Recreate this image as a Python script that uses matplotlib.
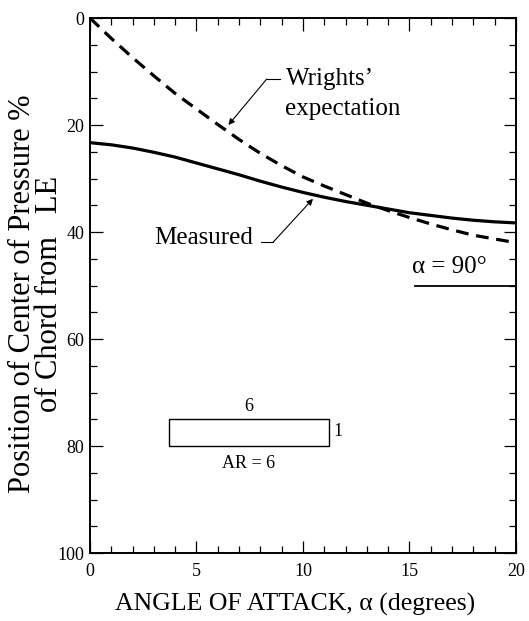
import matplotlib
matplotlib.use("Agg")
import matplotlib.pyplot as plt
from matplotlib.patches import Rectangle
from matplotlib.ticker import MultipleLocator

plt.rcParams['font.family'] = ['Liberation Serif', 'DejaVu Serif']

# Data
alpha = [0, 1, 2, 3, 4, 5, 6, 7, 8, 9, 10,
         11, 12, 13, 14, 15, 16, 17, 18, 19, 20]
measured = [23.3, 23.7, 24.3, 25.1, 26.0, 27.1, 28.2, 29.3, 30.5, 31.6, 32.6,
            33.5, 34.3, 35.0, 35.7, 36.4, 36.9, 37.4, 37.8, 38.1, 38.3]
wright = [0.0, 3.8, 7.4, 10.8, 14.1, 17.0, 19.9, 22.7, 25.3, 27.6, 29.7,
          31.4, 33.0, 34.6, 36.0, 37.3, 38.5, 39.6, 40.6, 41.3, 42.0]
alpha90_value = 50
alpha90_span = [15.25, 20]
wing_x = [3.7, 11.2]
wing_y = [75, 80]

fig = plt.figure(figsize=(5.29, 6.21), dpi=100)
ax = fig.add_axes([0.170, 0.1095, 0.8054, 0.8615])

ax.plot(alpha, measured, color='black', lw=2.3, solid_capstyle='butt')
ax.plot(alpha, wright, color='black', lw=2.3, linestyle=(0, (4.0, 2.4)))

ax.plot(alpha90_span, [alpha90_value, alpha90_value], color='black', lw=1.3)
ax.text(16.85, 46.6, 'α = 90°', fontsize=18, ha='center', va='center')

ax.add_patch(Rectangle((wing_x[0], wing_y[0]), wing_x[1] - wing_x[0],
                       wing_y[1] - wing_y[0], fill=False, lw=1.0, ec='black'))
ax.text(7.45, 72.6, '6', fontsize=13, ha='center', va='center')
ax.text(11.45, 77.3, '1', fontsize=13, ha='left', va='center')
ax.text(7.45, 83.2, 'AR = 6', fontsize=13, ha='center', va='center')

# Wrights' expectation annotation
ax.text(9.2, 11.4, "Wrights’", fontsize=18, ha='left', va='center')
ax.text(9.15, 17.0, 'expectation', fontsize=18, ha='left', va='center')
ax.plot([8.9, 8.3], [11.4, 11.4], color='black', lw=0.8)
ax.annotate('', xy=(6.5, 20.0), xytext=(8.3, 11.4),
            arrowprops=dict(arrowstyle='-|>', color='black', lw=0.8,
                            mutation_scale=9, shrinkA=0, shrinkB=0))

# Measured annotation
ax.text(7.65, 41.2, 'Measured', fontsize=18, ha='right', va='center')
ax.plot([8.05, 8.6], [41.9, 41.9], color='black', lw=0.8)
ax.annotate('', xy=(10.47, 33.8), xytext=(8.6, 41.9),
            arrowprops=dict(arrowstyle='-|>', color='black', lw=0.8,
                            mutation_scale=9, shrinkA=0, shrinkB=0))

ax.set_xlim(0, 20)
ax.set_ylim(100, 0)
ax.xaxis.set_major_locator(MultipleLocator(5))
ax.xaxis.set_minor_locator(MultipleLocator(1))
ax.yaxis.set_major_locator(MultipleLocator(20))
ax.yaxis.set_minor_locator(MultipleLocator(5))
ax.tick_params(which='both', direction='in', top=True, right=True,
               labelsize=13, width=0.9)
ax.tick_params(which='major', length=9)
ax.tick_params(which='minor', length=5)
ax.tick_params(axis='x', which='major', pad=7)
ax.tick_params(axis='y', which='major', pad=4)
for s in ax.spines.values():
    s.set_linewidth(1.4)

fig.text(0.558, 0.026, 'ANGLE OF ATTACK, α (degrees)', fontsize=18.5,
         ha='center', va='center')
fig.text(0.068, 0.527, 'Position of Center of Pressure %\nof Chord from   LE',
         fontsize=22, rotation=90, ha='center', va='center',
         multialignment='center', linespacing=0.95)

fig.savefig('out.png', dpi=100)
